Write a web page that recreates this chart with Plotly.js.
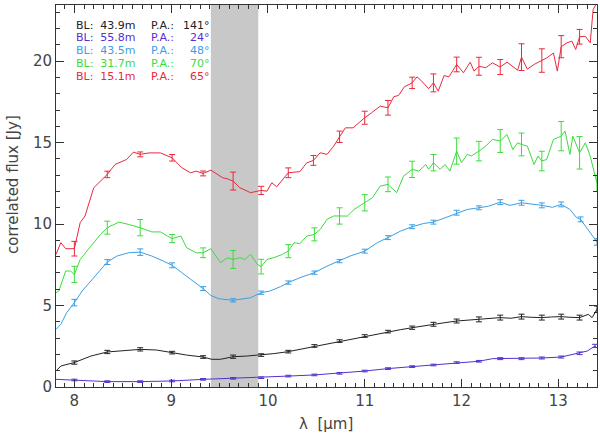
<!DOCTYPE html>
<html>
<head>
<meta charset="utf-8">
<script src="https://cdn.plot.ly/plotly-3.0.1.min.js"></script>
<style>
  html, body { margin: 0; padding: 0; background: #fff; }
  #chart { width: 600px; height: 436px; }
</style>
</head>
<body>
<div id="chart"></div>
<script>
/* -------------------- Data -------------------- */

// red: BL 15.1m
const redLam = [7.81, 7.86, 7.91, 8.00, 8.06, 8.11, 8.20, 8.34, 8.42, 8.54, 8.61, 8.68, 8.77, 8.89, 9.01, 9.11, 9.20, 9.26, 9.33, 9.41, 9.53, 9.58, 9.64, 9.71, 9.82, 9.93, 9.99, 10.04, 10.09, 10.21, 10.33, 10.40, 10.47, 10.54, 10.61, 10.68, 10.74, 10.80, 10.88, 11.00, 11.07, 11.16, 11.24, 11.30, 11.35, 11.41, 11.49, 11.54, 11.59, 11.66, 11.71, 11.76, 11.82, 11.87, 11.95, 12.02, 12.09, 12.13, 12.18, 12.25, 12.32, 12.40, 12.47, 12.58, 12.62, 12.68, 12.75, 12.83, 12.88, 12.95, 12.99, 13.03, 13.09, 13.14, 13.18, 13.22, 13.28, 13.33, 13.36, 13.40];
const redFlux = [8.14, 8.86, 8.49, 8.49, 10.09, 10.5, 12.23, 13.05, 13.66, 13.97, 14.42, 14.28, 14.37, 14.37, 14.07, 13.46, 13.15, 13.25, 13.11, 13.31, 12.85, 12.78, 12.64, 12.23, 11.93, 12.07, 12.02, 12.54, 12.29, 13.15, 13.22, 13.76, 13.91, 14.38, 14.28, 14.79, 15.36, 15.91, 15.91, 16.53, 16.83, 17.24, 17.14, 17.82, 17.9, 18.43, 18.67, 19.04, 18.77, 18.31, 18.67, 18.16, 19.12, 19.04, 19.8, 19.29, 19.94, 19.39, 19.69, 19.6, 19.9, 19.64, 19.94, 19.45, 20.25, 19.51, 19.8, 20.04, 20.2, 20.5, 19.39, 20.89, 21.13, 21.23, 20.72, 21.5, 21.53, 21.13, 23.17, 23.6];
const redErrLam = [8.00, 8.34, 8.68, 9.01, 9.33, 9.64, 9.93, 10.21, 10.47, 10.74, 11.00, 11.24, 11.49, 11.71, 11.95, 12.18, 12.40, 12.62, 12.83, 13.03, 13.22];
const redErrFlux = [8.49, 13.05, 14.28, 14.07, 13.11, 12.64, 12.07, 13.15, 13.91, 15.36, 16.53, 17.14, 18.67, 18.67, 19.8, 19.69, 19.64, 20.25, 20.04, 20.89, 21.5];
const redErr = [0.45, 0.2, 0.15, 0.2, 0.15, 0.55, 0.25, 0.3, 0.3, 0.35, 0.4, 0.45, 0.35, 0.55, 0.45, 0.55, 0.46, 0.82, 0.72, 0.68, 0.45];

// green: BL 31.7m
const greenLam = [7.81, 7.84, 7.91, 7.96, 8.00, 8.06, 8.17, 8.27, 8.34, 8.46, 8.56, 8.68, 8.80, 8.89, 8.96, 9.01, 9.10, 9.16, 9.26, 9.33, 9.41, 9.51, 9.58, 9.64, 9.71, 9.76, 9.82, 9.89, 9.93, 9.99, 10.06, 10.15, 10.21, 10.27, 10.33, 10.40, 10.48, 10.54, 10.61, 10.68, 10.74, 10.82, 10.89, 11.00, 11.08, 11.16, 11.24, 11.33, 11.40, 11.49, 11.56, 11.63, 11.66, 11.71, 11.78, 11.83, 11.88, 11.95, 12.00, 12.06, 12.10, 12.18, 12.25, 12.32, 12.40, 12.47, 12.53, 12.58, 12.62, 12.68, 12.75, 12.79, 12.83, 12.88, 12.95, 13.03, 13.07, 13.12, 13.15, 13.22, 13.28, 13.33, 13.38, 13.40];
const greenFlux = [5.79, 5.9, 7.12, 7.12, 6.91, 7.83, 8.65, 9.37, 9.78, 10.12, 9.98, 9.78, 9.52, 9.52, 9.27, 9.11, 9.27, 8.55, 8.24, 8.24, 8.49, 7.63, 7.93, 7.83, 7.94, 7.83, 8.14, 7.53, 7.39, 7.83, 7.94, 8.14, 8.34, 8.86, 8.8, 9.26, 9.37, 9.67, 10.29, 10.5, 10.5, 10.49, 10.9, 11.31, 11.62, 12.33, 12.44, 11.93, 12.94, 13.36, 13.25, 13.66, 13.36, 13.77, 13.36, 13.66, 13.25, 14.48, 13.77, 14.28, 14.18, 14.48, 14.79, 15.2, 15.1, 15.5, 14.58, 14.99, 14.89, 14.79, 13.66, 14.18, 13.87, 13.97, 15.2, 15.4, 15.71, 14.28, 15.4, 14.38, 14.99, 14.17, 13.05, 12.5];
const greenErrLam = [8.00, 8.34, 8.68, 9.01, 9.33, 9.64, 9.93, 10.21, 10.48, 10.74, 11.00, 11.24, 11.49, 11.71, 11.95, 12.18, 12.40, 12.62, 12.83, 13.03, 13.22, 13.40];
const greenErrFlux = [6.91, 9.78, 9.78, 9.11, 8.24, 7.83, 7.39, 8.34, 9.37, 10.5, 11.31, 12.44, 13.36, 13.77, 14.48, 14.48, 15.1, 14.89, 13.87, 15.4, 14.38, 12.5];
const greenErr = [0.5, 0.4, 0.5, 0.25, 0.3, 0.55, 0.45, 0.4, 0.4, 0.5, 0.5, 0.45, 0.5, 0.5, 0.8, 0.6, 0.7, 0.7, 0.6, 0.9, 1.0, 0.5];

// blue: BL 43.5m
const blueLam = [7.81, 7.86, 7.92, 8.00, 8.08, 8.17, 8.27, 8.34, 8.44, 8.56, 8.68, 8.80, 8.92, 9.01, 9.11, 9.23, 9.33, 9.41, 9.49, 9.64, 9.73, 9.82, 9.93, 10.02, 10.13, 10.21, 10.33, 10.48, 10.61, 10.74, 10.85, 11.00, 11.13, 11.24, 11.37, 11.49, 11.61, 11.71, 11.83, 11.95, 12.06, 12.18, 12.28, 12.40, 12.50, 12.62, 12.71, 12.83, 12.94, 13.03, 13.12, 13.19, 13.23, 13.33, 13.40];
const blueFlux = [3.54, 3.85, 4.56, 5.18, 5.89, 6.5, 7.22, 7.67, 8.04, 8.24, 8.28, 8.04, 7.73, 7.47, 7.02, 6.5, 6.04, 5.62, 5.42, 5.32, 5.38, 5.48, 5.79, 5.89, 6.16, 6.41, 6.71, 7.02, 7.42, 7.73, 8.04, 8.34, 8.86, 9.17, 9.57, 9.84, 10.04, 10.12, 10.39, 10.7, 10.9, 11.0, 11.1, 11.35, 11.15, 11.31, 11.25, 11.15, 11.03, 11.21, 10.9, 10.39, 10.29, 9.47, 8.9];
const blueErrLam = [8.00, 8.34, 8.68, 9.01, 9.33, 9.64, 9.93, 10.21, 10.48, 10.74, 11.00, 11.24, 11.49, 11.71, 11.95, 12.18, 12.40, 12.62, 12.83, 13.03, 13.23, 13.40];
const blueErrFlux = [5.18, 7.67, 8.28, 7.47, 6.04, 5.32, 5.79, 6.41, 7.02, 7.73, 8.34, 9.17, 9.84, 10.12, 10.7, 11.0, 11.35, 11.31, 11.15, 11.21, 10.29, 8.9];
const blueErr = [0.2, 0.15, 0.2, 0.15, 0.12, 0.1, 0.1, 0.1, 0.1, 0.1, 0.12, 0.12, 0.12, 0.12, 0.15, 0.12, 0.15, 0.15, 0.15, 0.15, 0.15, 0.2];

// black: BL 43.9m
const blackLam = [7.81, 7.86, 8.00, 8.17, 8.34, 8.51, 8.68, 8.85, 9.01, 9.16, 9.33, 9.42, 9.51, 9.64, 9.78, 9.93, 10.06, 10.21, 10.33, 10.48, 10.61, 10.74, 10.87, 11.00, 11.12, 11.24, 11.37, 11.49, 11.60, 11.71, 11.83, 11.95, 12.06, 12.18, 12.29, 12.40, 12.51, 12.62, 12.72, 12.83, 12.93, 13.03, 13.12, 13.22, 13.31, 13.35, 13.40];
const blackFlux = [0.98, 1.29, 1.5, 1.9, 2.15, 2.25, 2.31, 2.27, 2.11, 1.96, 1.84, 1.7, 1.7, 1.86, 1.9, 1.96, 2.05, 2.17, 2.31, 2.52, 2.67, 2.82, 2.97, 3.13, 3.25, 3.4, 3.52, 3.64, 3.75, 3.85, 3.95, 4.05, 4.1, 4.15, 4.2, 4.26, 4.22, 4.32, 4.28, 4.26, 4.3, 4.32, 4.28, 4.26, 4.46, 4.26, 4.77];
const blackErrLam = [8.00, 8.34, 8.68, 9.01, 9.33, 9.64, 9.93, 10.21, 10.48, 10.74, 11.00, 11.24, 11.49, 11.71, 11.95, 12.18, 12.40, 12.62, 12.83, 13.03, 13.22, 13.40];
const blackErrFlux = [1.5, 2.15, 2.31, 2.11, 1.84, 1.86, 1.96, 2.17, 2.52, 2.82, 3.13, 3.4, 3.64, 3.85, 4.05, 4.15, 4.26, 4.32, 4.26, 4.32, 4.26, 4.77];
const blackErr = [0.1, 0.1, 0.1, 0.08, 0.08, 0.1, 0.08, 0.08, 0.08, 0.08, 0.08, 0.08, 0.1, 0.12, 0.12, 0.15, 0.15, 0.15, 0.15, 0.15, 0.15, 0.2];

// purple: BL 55.8m
const purpleLam = [7.81, 8.00, 8.17, 8.34, 8.68, 9.01, 9.33, 9.64, 9.93, 10.21, 10.48, 10.74, 11.00, 11.24, 11.49, 11.71, 11.95, 12.18, 12.32, 12.40, 12.62, 12.83, 13.03, 13.22, 13.30, 13.38, 13.40];
const purpleFlux = [0.47, 0.43, 0.38, 0.33, 0.33, 0.37, 0.47, 0.53, 0.57, 0.67, 0.74, 0.84, 0.98, 1.13, 1.25, 1.35, 1.5, 1.58, 1.74, 1.74, 1.74, 1.78, 1.84, 2.07, 2.21, 2.52, 2.4];
const purpleErrLam = [8.00, 8.34, 8.68, 9.01, 9.33, 9.64, 9.93, 10.21, 10.48, 10.74, 11.00, 11.24, 11.49, 11.71, 11.95, 12.18, 12.40, 12.62, 12.83, 13.03, 13.22, 13.38];
const purpleErrFlux = [0.43, 0.33, 0.33, 0.37, 0.47, 0.53, 0.57, 0.67, 0.74, 0.84, 0.98, 1.13, 1.25, 1.35, 1.5, 1.58, 1.74, 1.74, 1.78, 1.84, 2.07, 2.52];
const purpleErr = [0.05, 0.05, 0.05, 0.05, 0.05, 0.05, 0.05, 0.05, 0.05, 0.05, 0.05, 0.05, 0.05, 0.05, 0.05, 0.05, 0.06, 0.06, 0.06, 0.06, 0.08, 0.1];

// legend labels, top to bottom
const legendBL = ["43.9m", "55.8m", "43.5m", "31.7m", "15.1m"];
const legendPA = ["141°", "24°", "48°", "70°", "65°"];

// excluded region (ozone band)
const bandLam = [9.41, 9.90];

/* -------------------- Helpers -------------------- */

const COLORS = {
  black: "#222222",
  purple: "#5530d0",
  blue: "#3a9fe4",
  green: "#3cdc3c",
  red: "#e82a3c",
};
const LEGEND_COLORS = [COLORS.black, COLORS.purple, COLORS.blue, COLORS.green, COLORS.red];
const FONT = "DejaVu Sans, Liberation Sans, sans-serif";
const TEXT_COLOR = "#444";

function lineTrace(x, y, color) {
  return {
    x, y,
    type: "scatter",
    mode: "lines",
    line: { color, width: 1 },
    hoverinfo: "skip",
  };
}

function errTrace(x, y, err, color) {
  return {
    x, y,
    type: "scatter",
    mode: "markers",
    marker: { size: 1, color, opacity: 0 },
    error_y: { type: "data", array: err, visible: true, color, thickness: 1, width: 3 },
    hoverinfo: "skip",
  };
}

/* -------------------- Plot -------------------- */

const traces = [
  lineTrace(purpleLam, purpleFlux, COLORS.purple),
  errTrace(purpleErrLam, purpleErrFlux, purpleErr, COLORS.purple),
  lineTrace(blackLam, blackFlux, COLORS.black),
  errTrace(blackErrLam, blackErrFlux, blackErr, COLORS.black),
  lineTrace(blueLam, blueFlux, COLORS.blue),
  errTrace(blueErrLam, blueErrFlux, blueErr, COLORS.blue),
  lineTrace(greenLam, greenFlux, COLORS.green),
  errTrace(greenErrLam, greenErrFlux, greenErr, COLORS.green),
  lineTrace(redLam, redFlux, COLORS.red),
  errTrace(redErrLam, redErrFlux, redErr, COLORS.red),
];

// plot area in px: left 56, right 597, top 5, bottom 387
const PX = { l: 56, r: 597, t: 5, b: 387 };
const px2x = (px) => (px - PX.l) / (PX.r - PX.l);
const px2y = (py) => (PX.b - py) / (PX.b - PX.t);

const annotations = [];
legendBL.forEach((bl, i) => {
  const yy = px2y(25 + i * 13);
  const c = LEGEND_COLORS[i];
  const base = { xref: "paper", yref: "paper", y: yy, yanchor: "middle", showarrow: false,
    font: { family: FONT, size: 11, color: c } };
  annotations.push({ ...base, x: px2x(74), xanchor: "left", text: "BL:  " + bl });
  annotations.push({ ...base, x: px2x(149), xanchor: "left", text: "P.A.:" });
  annotations.push({ ...base, x: px2x(212), xanchor: "right", text: legendPA[i] });
});

// axis titles placed as annotations to follow the reference position
annotations.push({
  xref: "paper", yref: "paper", x: px2x(326), y: px2y(424),
  xanchor: "center", yanchor: "middle", showarrow: false,
  text: "λ  [μm]", font: { family: FONT, size: 15, color: TEXT_COLOR },
});
annotations.push({
  xref: "paper", yref: "paper", x: px2x(13), y: px2y(184),
  xanchor: "center", yanchor: "middle", showarrow: false, textangle: -90,
  text: "correlated flux [Jy]", font: { family: FONT, size: 15, color: TEXT_COLOR },
});

const axisCommon = {
  showgrid: false,
  zeroline: false,
  showline: true,
  linecolor: "#333",
  linewidth: 1,
  mirror: "ticks",
  ticks: "inside",
  ticklen: 8,
  tickwidth: 1,
  tickcolor: "#333",
  tickfont: { family: FONT, size: 15, color: TEXT_COLOR },
};

const layout = {
  width: 600,
  height: 436,
  margin: { l: PX.l, r: 600 - PX.r, t: PX.t, b: 436 - PX.b },
  paper_bgcolor: "#fff",
  plot_bgcolor: "#fff",
  showlegend: false,
  xaxis: {
    ...axisCommon,
    range: [7.81, 13.40],
    dtick: 1,
    tick0: 0,
    minor: { ticks: "inside", dtick: 0.1, ticklen: 4, tickcolor: "#333", tickwidth: 1 },
  },
  yaxis: {
    ...axisCommon,
    range: [0, 23.45],
    dtick: 5,
    tick0: 0,
    minor: { ticks: "inside", dtick: 1, ticklen: 4, tickcolor: "#333", tickwidth: 1 },
  },
  shapes: [{
    type: "rect",
    xref: "x", yref: "paper",
    x0: bandLam[0], x1: bandLam[1], y0: 0, y1: 1,
    fillcolor: "#c8c8c8",
    line: { width: 0 },
    layer: "below",
  }],
  annotations,
};

Plotly.newPlot("chart", traces, layout, { displayModeBar: false, staticPlot: true });
</script>
</body>
</html>
